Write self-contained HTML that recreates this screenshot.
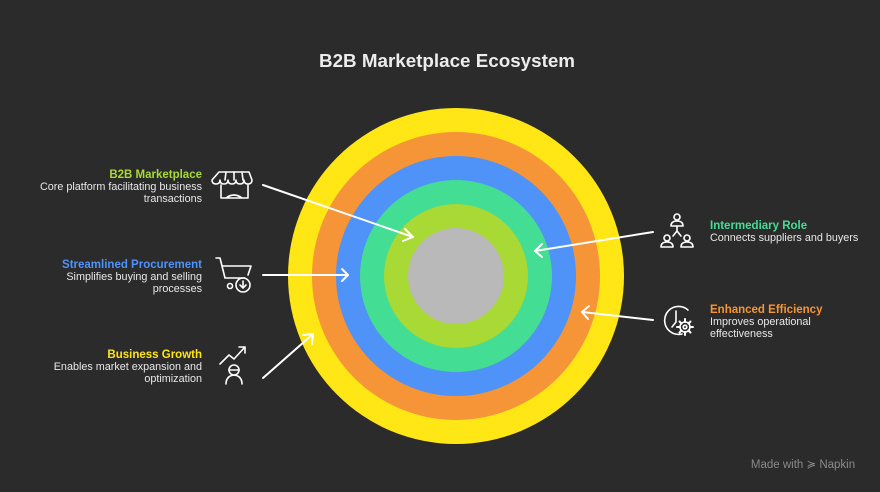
<!DOCTYPE html>
<html><head><meta charset="utf-8"><style>
html,body{margin:0;padding:0;background:#2b2b2b;}
svg{display:block;}
text{font-family:"Liberation Sans",sans-serif;}
</style></head><body>
<svg width="880" height="492" viewBox="0 0 880 492" xmlns="http://www.w3.org/2000/svg">
<rect width="880" height="492" fill="#2b2b2b"/>
<text x="447" y="67" text-anchor="middle" font-size="18" font-weight="bold" fill="#ececec" textLength="256" lengthAdjust="spacingAndGlyphs">B2B Marketplace Ecosystem</text>
<circle cx="456" cy="276" r="168" fill="#ffe614"/>
<circle cx="456" cy="276" r="144" fill="#f59537"/>
<circle cx="456" cy="276" r="120" fill="#4f92f8"/>
<circle cx="456" cy="276" r="96" fill="#43dd93"/>
<circle cx="456" cy="276" r="72" fill="#a8d934"/>
<circle cx="456" cy="276" r="48" fill="#b9b9b9"/>
<g stroke="#fff" stroke-width="2" fill="none" stroke-linecap="round" stroke-linejoin="round">
<line x1="263" y1="185" x2="413" y2="237"/><polyline points="405,229 413,237 403,241"/>
<line x1="263" y1="275" x2="348" y2="275"/><polyline points="342,269 348,275 342,281"/>
<line x1="263" y1="378" x2="313" y2="334"/><polyline points="303,335 313,334 312,344"/>
<line x1="653" y1="232" x2="535" y2="251"/><polyline points="542,244 535,251 542,257"/>
<line x1="653" y1="320" x2="582" y2="312"/><polyline points="589,306 582,312 588,319"/>
</g>
<g font-size="10.8" fill="#e8e8e8" text-anchor="end">
<text x="202" y="178" font-size="11.5" font-weight="bold" fill="#a8d934">B2B Marketplace</text>
<text x="202" y="190">Core platform facilitating business</text>
<text x="202" y="202">transactions</text>
<text x="202" y="268" font-size="11.5" font-weight="bold" fill="#4f92f8">Streamlined Procurement</text>
<text x="202" y="280">Simplifies buying and selling</text>
<text x="202" y="292">processes</text>
<text x="202" y="358" font-size="11.5" font-weight="bold" fill="#ffe614">Business Growth</text>
<text x="202" y="370">Enables market expansion and</text>
<text x="202" y="382">optimization</text>
</g>
<g font-size="10.8" fill="#e8e8e8">
<text x="710" y="229" font-size="11.5" font-weight="bold" fill="#43dd93">Intermediary Role</text>
<text x="710" y="241">Connects suppliers and buyers</text>
<text x="710" y="313" font-size="11.5" font-weight="bold" fill="#f59537">Enhanced Efficiency</text>
<text x="710" y="325">Improves operational</text>
<text x="710" y="337">effectiveness</text>
</g>
<g stroke="#fff" stroke-width="1.6" fill="none" stroke-linecap="round" stroke-linejoin="round">
<path d="M219,172 h30 l3,8 q0,4 -4,4 q-4,0 -4,-4 q0,4 -4,4 q-4,0 -4,-4 q0,4 -4,4 q-4,0 -4,-4 q0,4 -4,4 q-4,0 -4,-4 q0,4 -4,4 q-4,0 -4,-4 z"/>
<path d="M221,185 v13 h27 v-13 M226,198 q8,-6 16,0"/>
<line x1="226" y1="172" x2="225" y2="180"/><line x1="234" y1="172" x2="234" y2="180"/><line x1="242" y1="172" x2="243" y2="180"/>
<path d="M216,258 h4 l5,20 h20 M222,266 h29 l-3,9"/>
<circle cx="230" cy="286" r="2.5"/>
<circle cx="243" cy="285" r="7"/><path d="M243,281 v7 M240,285 l3,3 l3,-3"/>
<path d="M220,364 l9,-9 l5,4 l11,-12 M239,347 h6 v6"/>
<circle cx="234" cy="370" r="5"/><path d="M229,370 h10 M226,384 q0,-8 8,-9 q8,1 8,9"/>
<circle cx="677" cy="217" r="3"/><path d="M671,226 q0,-5 6,-5 q6,0 6,5 z"/>
<path d="M677,226 v5 M673,236 l4,-5 l4,5"/>
<circle cx="667" cy="238" r="3"/><path d="M661,247 q0,-5 6,-5 q6,0 6,5 z"/>
<circle cx="687" cy="238" r="3"/><path d="M681,247 q0,-5 6,-5 q6,0 6,5 z"/>
<path d="M688,310 a14,14 0 1 0 -6,24"/>
<path d="M676,311 v11 l-4,5"/>
<circle cx="685" cy="327" r="5"/><circle cx="685" cy="327" r="1.8"/>
<path d="M685,319 v3 M685,332 v3 M677,327 h3 M690,327 h3 M679.5,321.5 l2,2 M688.5,330.5 l2,2 M679.5,332.5 l2,-2 M688.5,323.5 l2,-2" stroke-width="2"/>
</g>
<text x="803" y="468" text-anchor="middle" font-size="11.5" fill="#8a8a8a">Made with ≽ Napkin</text>
</svg>
</body></html>
